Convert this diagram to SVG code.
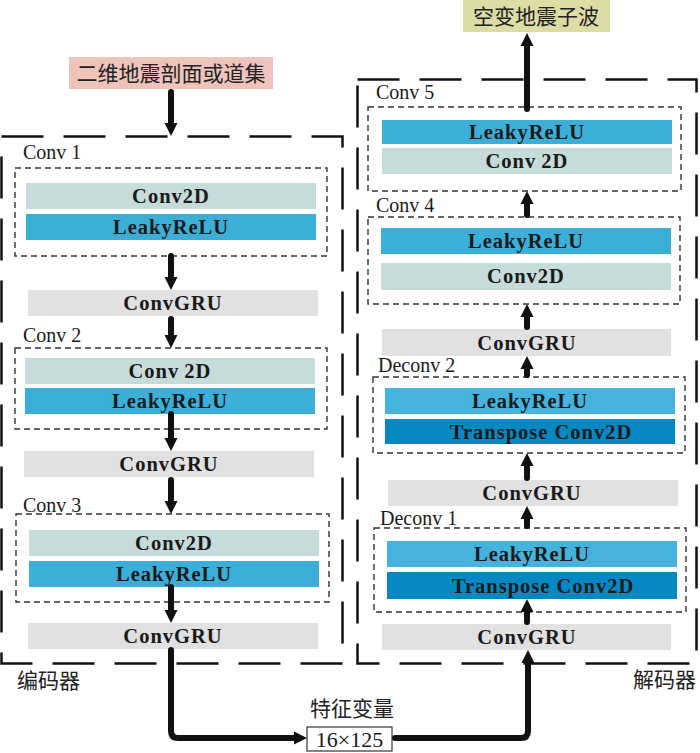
<svg xmlns="http://www.w3.org/2000/svg" width="700" height="753" viewBox="0 0 700 753">
<defs>
<style>
.bar{font-family:"Liberation Serif","Times New Roman",serif;font-weight:bold;font-size:20.5px;letter-spacing:1px;fill:#1a1a1a;text-anchor:middle}
.lbl{font-family:"Liberation Serif","Times New Roman",serif;font-size:20px;fill:#1a1a1a}
.zh{font-family:"Liberation Serif","Noto Sans CJK SC",serif;font-size:21px;fill:#222}
.outer{fill:none;stroke:#111;stroke-width:2.5;stroke-dasharray:42 20}
.inner{fill:none;stroke:#333;stroke-width:1.4;stroke-dasharray:6 4}
.c2d{fill:#c6dcda}
.lrelu{fill:#3cafd8}
.lrelu2{fill:#45b3de}
.tconv{fill:#0689c3}
.gru{fill:#e1e1e1}
.arr{fill:none;stroke:#111;stroke-width:6;stroke-linecap:round;stroke-linejoin:round;marker-end:url(#ah)}
</style>
<marker id="ah" markerUnits="userSpaceOnUse" markerWidth="14" markerHeight="14" viewBox="0 0 14 14" refX="3" refY="7" orient="auto">
<path d="M0,0.5 L13,7 L0,13.5 z" fill="#111"/>
</marker>
</defs>

<!-- Encoder side -->
<g id="input">
<rect x="69" y="57" width="204" height="32" fill="#efc3bb"/>
<text class="zh" x="171" y="81" text-anchor="middle">二维地震剖面或道集</text>
</g>
<g id="encoder">
<rect class="outer" x="1.5" y="136.5" width="341" height="527"/>
<text class="zh" x="17" y="688">编码器</text>
</g>
<g id="conv1">
<rect class="inner" x="15" y="168" width="312" height="88"/>
<text class="lbl" x="23" y="159">Conv 1</text>
<rect class="c2d" x="26" y="183" width="290" height="26"/>
<text class="bar" x="171" y="203">Conv2D</text>
<rect class="lrelu" x="26" y="214" width="290" height="26"/>
<text class="bar" x="171" y="234">LeakyReLU</text>
</g>
<g id="gru_e1">
<rect class="gru" x="28" y="290" width="290" height="26"/>
<text class="bar" x="173" y="310">ConvGRU</text>
</g>
<g id="conv2">
<rect class="inner" x="15" y="348" width="312" height="81"/>
<text class="lbl" x="23" y="342">Conv 2</text>
<rect class="c2d" x="25" y="358" width="290" height="26"/>
<text class="bar" x="170" y="378">Conv&#8201;2D</text>
<rect class="lrelu" x="25" y="388" width="290" height="26"/>
<text class="bar" x="170" y="408">LeakyReLU</text>
</g>
<g id="gru_e2">
<rect class="gru" x="24" y="451" width="290" height="26"/>
<text class="bar" x="169" y="471">ConvGRU</text>
</g>
<g id="conv3">
<rect class="inner" x="16" y="514" width="313" height="88"/>
<text class="lbl" x="23" y="512">Conv 3</text>
<rect class="c2d" x="29" y="530" width="290" height="26"/>
<text class="bar" x="174" y="550">Conv2D</text>
<rect class="lrelu" x="29" y="561" width="290" height="26"/>
<text class="bar" x="174" y="581">LeakyReLU</text>
</g>
<g id="gru_e3">
<rect class="gru" x="28" y="623" width="290" height="26"/>
<text class="bar" x="173" y="643">ConvGRU</text>
</g>

<!-- Latent -->
<g id="latent">
<text class="zh" x="310" y="716">特征变量</text>
<rect x="307" y="727" width="85" height="24" fill="#fff" stroke="#333" stroke-width="1.2"/>
<text class="lbl" x="349.5" y="747" text-anchor="middle" style="font-size:22px">16×125</text>
</g>

<!-- Decoder side -->
<g id="output">
<rect x="463" y="0" width="147" height="32" fill="#dcdca4"/>
<text class="zh" x="536" y="24" text-anchor="middle">空变地震子波</text>
</g>
<g id="decoder">
<rect class="outer" x="357.5" y="79.5" width="339" height="584"/>
<text class="zh" x="633" y="687">解码器</text>
</g>
<g id="conv5">
<rect class="inner" x="368" y="107" width="313" height="84"/>
<text class="lbl" x="376" y="99">Conv 5</text>
<rect class="lrelu" x="382" y="120" width="290" height="24"/>
<text class="bar" x="527" y="139">LeakyReLU</text>
<rect class="c2d" x="382" y="148" width="290" height="26"/>
<text class="bar" x="527" y="168">Conv&#8201;2D</text>
</g>
<g id="conv4">
<rect class="inner" x="368" y="217" width="312" height="87"/>
<text class="lbl" x="376" y="212">Conv 4</text>
<rect class="lrelu" x="381" y="228" width="290" height="26"/>
<text class="bar" x="526" y="248">LeakyReLU</text>
<rect class="c2d" x="381" y="263" width="290" height="27"/>
<text class="bar" x="526" y="283">Conv2D</text>
</g>
<g id="gru_d1">
<rect class="gru" x="382" y="329" width="289" height="27"/>
<text class="bar" x="527" y="350">ConvGRU</text>
</g>
<g id="deconv2">
<rect class="inner" x="373" y="377" width="312" height="76"/>
<text class="lbl" x="378" y="372">Deconv 2</text>
<rect class="lrelu2" x="385" y="388" width="290" height="26"/>
<text class="bar" x="530" y="408">LeakyReLU</text>
<rect class="tconv" x="385" y="419" width="290" height="25"/>
<text class="bar" x="541" y="439">Transpose  Conv2D</text>
</g>
<g id="gru_d2">
<rect class="gru" x="388" y="480" width="290" height="26"/>
<text class="bar" x="532" y="500">ConvGRU</text>
</g>
<g id="deconv1">
<rect class="inner" x="374" y="528" width="312" height="84"/>
<text class="lbl" x="380" y="525">Deconv 1</text>
<rect class="lrelu2" x="387" y="541" width="290" height="26"/>
<text class="bar" x="532" y="561">LeakyReLU</text>
<rect class="tconv" x="387" y="572" width="290" height="27"/>
<text class="bar" x="543" y="593">Transpose  Conv2D</text>
</g>
<g id="gru_d3">
<rect class="gru" x="382" y="624" width="289" height="26"/>
<text class="bar" x="527" y="644">ConvGRU</text>
</g>

<!-- Connectors -->
<g id="connectors">
<path class="arr" d="M171,92 V126"/>
<path class="arr" d="M171,256 V280"/>
<path class="arr" d="M171,319 V338"/>
<path class="arr" d="M171,414 V441"/>
<path class="arr" d="M171,480 V504"/>
<path class="arr" d="M171,587 V613"/>
<path class="arr" d="M171,650 V731 Q171,738 178,738 H297"/>
<path class="arr" d="M395,738 H521 Q528,738 528,731 V660"/>
<path class="arr" d="M527,622 V609"/>
<path class="arr" d="M527,526 V516"/>
<path class="arr" d="M527,478 V463"/>
<path class="arr" d="M527,375 V366"/>
<path class="arr" d="M527,327 V314"/>
<path class="arr" d="M527,215 V201"/>
<path class="arr" d="M527,109 V43"/>
</g>
</svg>
